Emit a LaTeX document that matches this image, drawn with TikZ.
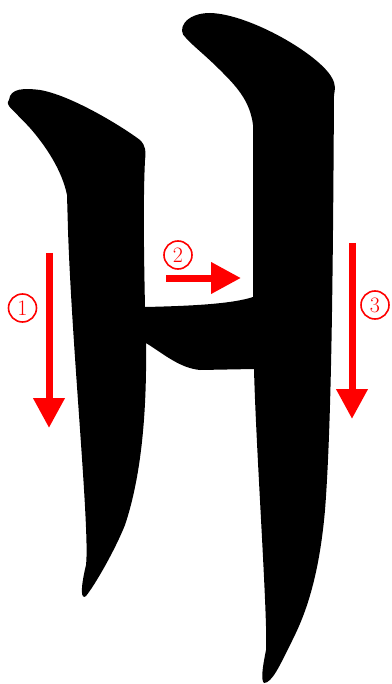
\documentclass[tikz,border=0pt]{standalone}
\usepackage{tikz}
\usetikzlibrary{arrows.meta}

\tikzset{
    order arrow/.style={red, line width=7pt, -{Triangle[length=30pt,width=30pt]}},
    order num/.style={circle, draw=red, text=red, line width=1.6pt, minimum size=28pt,
        inner sep=0pt, font=\fontsize{22}{22}\selectfont}
}

\begin{document}
\begin{tikzpicture}[x=1pt,y=-1pt]

\useasboundingbox (0,0) rectangle (391,684);

% Glyph
\fill[black] (9,100) .. controls (10,88) and (25,88) .. (40,90)
    .. controls (70,95) and (120,125) .. (140,140)
    .. controls (146,146) and (146,152) .. (145,160)
    .. controls (143,200) and (144,260) .. (145,307)
    .. controls (190,306) and (232,304) .. (253,297)
    -- (253,125)
    .. controls (250,100) and (235,85) .. (220,70)
    .. controls (205,55) and (192,45) .. (186,38)
    .. controls (176,30) and (185,13) .. (210,13)
    .. controls (250,14) and (320,55) .. (332,78)
    .. controls (336,85) and (335,90) .. (334,95)
    .. controls (333,250) and (332,420) .. (325,510)
    .. controls (318,590) and (300,625) .. (290,645)
    .. controls (280,665) and (272,683) .. (264,683)
    .. controls (261,680) and (262,670) .. (266,650)
    .. controls (268,620) and (256,450) .. (254,369)
    -- (200,370)
    .. controls (180,368) and (165,355) .. (146,343)
    .. controls (147,420) and (140,480) .. (125,525)
    .. controls (115,550) and (95,585) .. (86,596)
    .. controls (81,600) and (80,590) .. (86,565)
    .. controls (90,530) and (72,350) .. (68,230)
    -- (67,195)
    .. controls (62,170) and (45,145) .. (30,128)
    .. controls (20,117) and (12,110) .. (9,106)
    .. controls (7,103) and (8,101) .. (9,100) -- cycle;

% Stroke order
\coordinate (a1) at (49,253);
\coordinate (b1) at (49,428);
\coordinate (a2) at (166,278);
\coordinate (b2) at (241,278);
\coordinate (a3) at (352,243);
\coordinate (b3) at (352,419);

\draw[order arrow] (a1) -- (b1);
\draw[order arrow] (a2) -- (b2);
\draw[order arrow] (a3) -- (b3);

\node[order num] (n1) at (22.5,308) {1};
\node[order num] (n2) at (178,255) {2};
\node[order num] (n3) at (375,305) {3};

\end{tikzpicture}
\end{document}
